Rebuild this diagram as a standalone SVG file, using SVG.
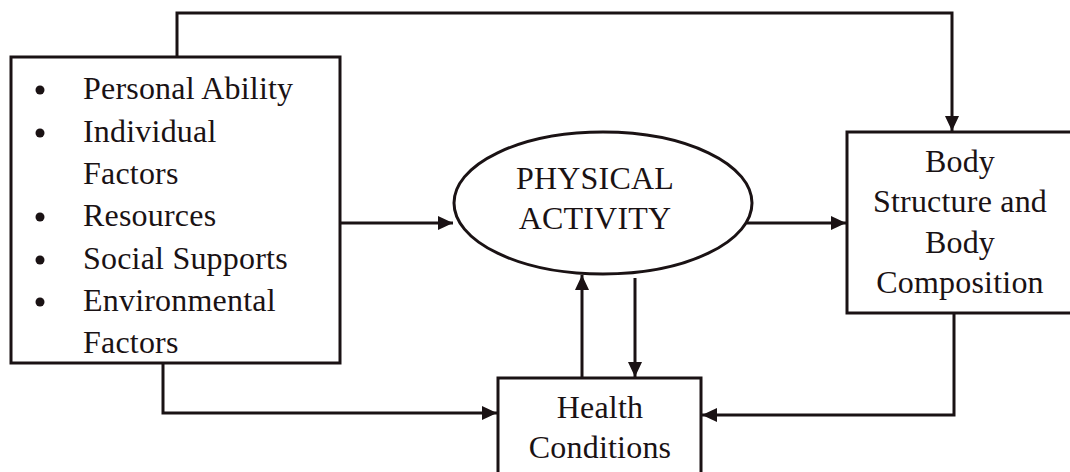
<svg xmlns="http://www.w3.org/2000/svg" width="1070" height="472" viewBox="0 0 1070 472">
<style>
.box{fill:#fff;stroke:#1a1214;stroke-width:3}
.ln{fill:none;stroke:#1a1214;stroke-width:3}
.t{font-family:"Liberation Serif","Times New Roman",serif;font-size:32px;fill:#1a1214;letter-spacing:0.2px}
.c{text-anchor:middle}
.b{fill:#1a1214}
</style>
<defs>
<marker id="ah" viewBox="0 0 15 14" refX="15" refY="7" markerWidth="15" markerHeight="14" markerUnits="userSpaceOnUse" orient="auto">
<path d="M0,0 L15,7 L0,14 Z" fill="#1a1214"/>
</marker>
</defs>
<rect width="1070" height="472" fill="#fff"/>
<g id="connectors">
<path class="ln" d="M177,57 V13 H952 V131" marker-end="url(#ah)"/>
<path class="ln" d="M340,223 H453" marker-end="url(#ah)"/>
<path class="ln" d="M747,223 H846" marker-end="url(#ah)"/>
<path class="ln" d="M582,378 V275" marker-end="url(#ah)"/>
<path class="ln" d="M635,278 V377" marker-end="url(#ah)"/>
<path class="ln" d="M163,363 V413 H497" marker-end="url(#ah)"/>
<path class="ln" d="M954,313 V415 H702" marker-end="url(#ah)"/>
</g>
<g id="factors">
<rect class="box" x="11" y="57" width="329" height="306"/>
<circle class="b" cx="40" cy="90" r="4.5"/>
<circle class="b" cx="40" cy="133" r="4.5"/>
<circle class="b" cx="40" cy="217" r="4.5"/>
<circle class="b" cx="40" cy="260" r="4.5"/>
<circle class="b" cx="40" cy="302" r="4.5"/>
<text class="t" x="83" y="99">Personal Ability</text>
<text class="t" x="83" y="142">Individual</text>
<text class="t" x="83" y="184">Factors</text>
<text class="t" x="83" y="226">Resources</text>
<text class="t" x="83" y="269">Social Supports</text>
<text class="t" x="83" y="311">Environmental</text>
<text class="t" x="83" y="353">Factors</text>
</g>
<g id="physical-activity">
<ellipse class="box" cx="603" cy="203" rx="149" ry="71"/>
<text class="t c" x="595" y="189">PHYSICAL</text>
<text class="t c" x="595" y="229">ACTIVITY</text>
</g>
<g id="body">
<rect class="box" x="847" y="132" width="230" height="181"/>
<text class="t c" x="960" y="172">Body</text>
<text class="t c" x="960" y="212">Structure and</text>
<text class="t c" x="960" y="253">Body</text>
<text class="t c" x="960" y="293">Composition</text>
</g>
<g id="health">
<rect class="box" x="498" y="378" width="203" height="100"/>
<text class="t c" x="600" y="418">Health</text>
<text class="t c" x="600" y="458">Conditions</text>
</g>
</svg>
